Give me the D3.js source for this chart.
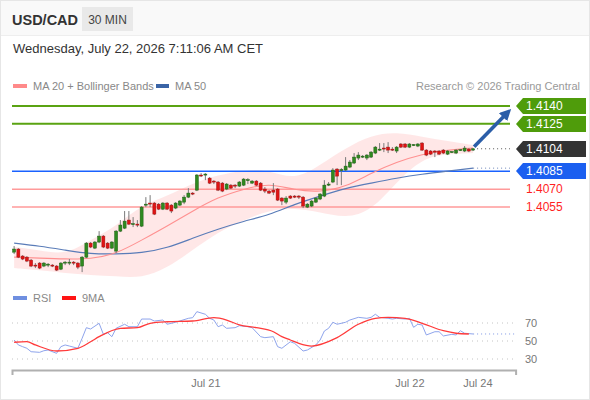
<!DOCTYPE html>
<html>
<head>
<meta charset="utf-8">
<script src="https://cdn.jsdelivr.net/npm/d3@7"></script>
<style>
  body { margin: 0; background: #fff; }
  svg { display: block; font-family: Arial, "Liberation Sans", sans-serif; }
</style>
</head>
<body>
<div id="chart"></div>
<script>
// candles, 30 min, index 0..108
const open = [
  1.40170,1.40196,1.40137,1.40128,1.40103,1.40061,1.40078,1.40053,1.40061,1.40061,
  1.40053,1.40027,1.40078,1.40078,1.40086,1.40078,1.40053,1.40128,1.40246,1.40204,
  1.40255,1.40305,1.40246,1.40204,1.40179,1.40347,1.40372,1.40440,1.40406,1.40406,
  1.40389,1.40566,1.40583,1.40583,1.40574,1.40532,1.40583,1.40566,1.40541,1.40566,
  1.40591,1.40633,1.40667,1.40692,1.40819,1.40819,1.40793,1.40768,1.40760,1.40751,
  1.40701,1.40734,1.40734,1.40726,1.40734,1.40776,1.40751,1.40768,1.40751,1.40701,
  1.40684,1.40692,1.40701,1.40625,1.40591,1.40642,1.40642,1.40642,1.40633,1.40549,
  1.40558,1.40591,1.40617,1.40642,1.40734,1.40760,1.40869,1.40861,1.40861,1.40886,
  1.40920,1.40962,1.40970,1.40962,1.40970,1.41004,1.41029,1.41046,1.41054,1.41037,
  1.41021,1.41080,1.41080,1.41054,1.41071,1.41063,1.41088,1.41029,1.41021,1.41021,
  1.41021,1.41029,1.40995,1.41012,1.41004,1.41029,1.41021,1.41037,1.41029
];
const high = [
  1.40221,1.40204,1.40145,1.40137,1.40112,1.40078,1.40086,1.40086,1.40078,1.40069,
  1.40061,1.40086,1.40095,1.40112,1.40095,1.40086,1.40137,1.40255,1.40255,1.40263,
  1.40347,1.40314,1.40255,1.40263,1.40356,1.40440,1.40516,1.40516,1.40465,1.40440,
  1.40558,1.40633,1.40650,1.40591,1.40583,1.40591,1.40591,1.40574,1.40591,1.40608,
  1.40650,1.40709,1.40675,1.40827,1.40835,1.40835,1.40802,1.40776,1.40768,1.40760,
  1.40751,1.40743,1.40743,1.40768,1.40793,1.40793,1.40776,1.40776,1.40760,1.40718,
  1.40692,1.40751,1.40709,1.40633,1.40642,1.40650,1.40650,1.40650,1.40642,1.40583,
  1.40608,1.40633,1.40667,1.40776,1.40760,1.40877,1.40877,1.40877,1.40970,1.40945,
  1.41004,1.41012,1.40987,1.40995,1.41021,1.41063,1.41088,1.41088,1.41096,1.41054,
  1.41063,1.41088,1.41088,1.41088,1.41080,1.41088,1.41096,1.41037,1.41029,1.41029,
  1.41029,1.41037,1.41029,1.41021,1.41037,1.41037,1.41063,1.41046,1.41046
];
const low = [
  1.40154,1.40120,1.40103,1.40086,1.40044,1.40036,1.40027,1.40044,1.40044,1.40044,
  1.40011,1.40019,1.40061,1.40061,1.40061,1.40027,1.40002,1.40120,1.40204,1.40196,
  1.40246,1.40204,1.40196,1.40196,1.40162,1.40339,1.40364,1.40398,1.40381,1.40381,
  1.40381,1.40549,1.40549,1.40482,1.40524,1.40524,1.40524,1.40499,1.40532,1.40558,
  1.40574,1.40625,1.40650,1.40684,1.40802,1.40776,1.40743,1.40743,1.40684,1.40675,
  1.40692,1.40701,1.40709,1.40718,1.40726,1.40743,1.40743,1.40726,1.40684,1.40667,
  1.40659,1.40650,1.40600,1.40566,1.40574,1.40617,1.40625,1.40617,1.40541,1.40541,
  1.40549,1.40583,1.40608,1.40633,1.40726,1.40751,1.40734,1.40734,1.40852,1.40877,
  1.40911,1.40945,1.40962,1.40945,1.40962,1.40995,1.41021,1.41012,1.41004,1.41021,
  1.41004,1.41046,1.41046,1.41046,1.41063,1.41054,1.41021,1.40978,1.40987,1.40970,
  1.40987,1.40995,1.40987,1.41004,1.40995,1.41021,1.41012,1.41012,1.41021
];
const close = [
  1.40196,1.40128,1.40112,1.40095,1.40053,1.40053,1.40036,1.40078,1.40069,1.40053,
  1.40019,1.40078,1.40086,1.40086,1.40078,1.40044,1.40128,1.40246,1.40213,1.40255,
  1.40305,1.40213,1.40204,1.40255,1.40347,1.40398,1.40431,1.40406,1.40410,1.40398,
  1.40549,1.40574,1.40578,1.40490,1.40532,1.40583,1.40532,1.40516,1.40583,1.40600,
  1.40633,1.40667,1.40659,1.40819,1.40815,1.40827,1.40751,1.40760,1.40692,1.40684,
  1.40743,1.40709,1.40726,1.40760,1.40785,1.40780,1.40768,1.40734,1.40692,1.40684,
  1.40667,1.40675,1.40608,1.40600,1.40625,1.40625,1.40633,1.40633,1.40558,1.40574,
  1.40600,1.40625,1.40659,1.40734,1.40743,1.40861,1.40810,1.40865,1.40894,1.40928,
  1.40970,1.40987,1.40978,1.40987,1.41012,1.41054,1.41037,1.41042,1.41029,1.41033,
  1.41054,1.41054,1.41054,1.41080,1.41075,1.41080,1.41029,1.40987,1.40995,1.41012,
  1.40995,1.41004,1.41021,1.41016,1.41029,1.41033,1.41046,1.41021,1.41040
];

// indicator lines read every 6 candles
const maIdx    = [0,6,12,18,24,30,36,42,48,54,60,66,72,78,84,90,96,102,108];
const ma20     = [1.40128,1.40120,1.40112,1.40112,1.40154,1.40271,1.40389,1.40516,1.40633,1.40701,
                  1.40751,1.40692,1.40675,1.40718,1.40835,1.40928,1.40995,1.41029,1.41046];
const bbUpper  = [1.40213,1.40187,1.40145,1.40271,1.40389,1.40566,1.40642,1.40751,1.40819,1.40861,
                  1.40861,1.40776,1.40903,1.41046,1.41155,1.41181,1.41139,1.41105,1.41071];
const bbLower  = [1.40036,1.40019,1.39993,1.39977,1.39968,1.39951,1.40036,1.40187,1.40339,1.40440,
                  1.40524,1.40541,1.40507,1.40457,1.40516,1.40760,1.40962,1.40995,1.41004];
const ma50     = [1.40246,1.40221,1.40187,1.40154,1.40154,1.40162,1.40204,1.40288,1.40364,1.40431,
                  1.40482,1.40574,1.40642,1.40709,1.40751,1.40793,1.40827,1.40852,1.40877];

// levels
const resistances = [1.4140, 1.4125];
const lastPrice = 1.4104;
const pivot = 1.4085;
const supports = [1.4070, 1.4055];

// RSI panel
const rsiIdx = [0,1,2,3,4,6,7,8,10,11,12,13,15,16,17,18,20,21,22,23,24,26,27,29,30,32,33,35,36,38,
                41,42,43,45,46,47,48,49,50,52,53,55,56,58,59,61,62,63,65,66,68,69,71,72,73,74,75,76,78,79,
                81,83,84,85,86,88,89,90,92,93,94,95,96,97,99,100,101,103,104,105,106,108];
const rsi = [51.1,45.6,43.7,41.9,38.1,37.4,39.2,40.0,36.3,43.7,45.6,44.4,41.9,53.0,64.8,63.3,69.7,57.4,59.2,54.8,
             64.1,68.6,65.9,65.9,74.4,74.4,72.2,73.3,68.6,70.8,75.2,75.9,82.6,79.7,75.2,73.3,65.9,67.8,64.1,64.8,
             67.0,65.9,64.8,54.8,53.7,54.8,43.7,41.9,49.2,47.4,38.9,40.0,45.6,51.1,61.1,64.1,70.8,68.6,70.8,73.3,
             76.3,75.2,76.3,79.7,76.3,75.2,74.4,75.2,74.4,75.2,65.2,68.6,67.8,56.7,60.3,60.3,55.6,57.4,56.7,61.4,
             58.6,57.8];
const rsiMaIdx = [0,3,5,10,15,18,20,25,29,32,36,42,47,50,53,57,61,63,65,67,70,76,81,85,88,92,96,101,104,107];
const rsiMa = [48.6,49.2,45.6,38.9,41.9,49.2,54.8,64.1,64.8,69.7,71.4,72.2,75.9,73.3,67.8,64.8,60.3,54.8,51.1,47.4,
               44.4,53.7,68.6,75.2,76.3,75.2,69.7,61.4,58.6,57.8];
const rsiTicks = [70, 50, 30];

const tickIdx = [45, 93, 109];
const tickLabels = ["Jul 21", "Jul 22", "Jul 24"];

const W = 590, H = 400;
const svg = d3.select("#chart").append("svg").attr("width", W).attr("height", H);

svg.append("rect").attr("x", 0.5).attr("y", 0.5).attr("width", W - 1).attr("height", H - 1)
  .attr("fill", "#fff").attr("stroke", "#e6e6e6");
svg.append("rect").attr("x", 1).attr("y", 1).attr("width", W - 2).attr("height", 34).attr("fill", "#f9f9f9");
svg.append("line").attr("x1", 1).attr("x2", W - 1).attr("y1", 35.5).attr("y2", 35.5).attr("stroke", "#eeeeee");

// header
svg.append("text").attr("x", 12).attr("y", 25).attr("font-size", 14.5).attr("font-weight", "bold")
  .attr("fill", "#333").text("USD/CAD");
svg.append("rect").attr("x", 82).attr("y", 7).attr("width", 51).attr("height", 24).attr("fill", "#e9e9e9");
svg.append("text").attr("x", 107.5).attr("y", 24).attr("text-anchor", "middle").attr("font-size", 12)
  .attr("fill", "#444").text("30 MIN");
svg.append("text").attr("x", 13).attr("y", 53).attr("font-size", 13).attr("fill", "#333")
  .text("Wednesday, July 22, 2026 7:11:06 AM CET");

// legend
svg.append("rect").attr("x", 13).attr("y", 84).attr("width", 14).attr("height", 4).attr("fill", "#ff8a8a");
svg.append("text").attr("x", 33).attr("y", 90).attr("font-size", 11).attr("fill", "#888").text("MA 20 + Bollinger Bands");
svg.append("rect").attr("x", 156).attr("y", 84).attr("width", 13).attr("height", 4).attr("fill", "#3a64a6");
svg.append("text").attr("x", 175).attr("y", 90).attr("font-size", 11).attr("fill", "#888").text("MA 50");
svg.append("text").attr("x", 580).attr("y", 90).attr("text-anchor", "end").attr("font-size", 11)
  .attr("fill", "#999").text("Research \u00a9 2026 Trading Central");

// scales
const x = d3.scaleLinear().domain([-0.5, 118]).range([12, 515.6]);
const y = d3.scaleLinear().domain([1.4055, 1.4140]).range([207, 106]);
const yr = d3.scaleLinear().domain([30, 70]).range([359, 323]);

const lineEnd = 510;

// bollinger band
const band = maIdx.map((d, i) => ({ i: d, up: bbUpper[i], lo: bbLower[i] }));
svg.append("path").datum(band)
  .attr("fill", "#ffe3e3").attr("opacity", 0.85)
  .attr("d", d3.area().curve(d3.curveBasis).x(d => x(d.i)).y0(d => y(d.lo)).y1(d => y(d.up)));

// level lines
supports.forEach(v => {
  svg.append("line").attr("x1", 12).attr("x2", lineEnd).attr("y1", y(v)).attr("y2", y(v))
    .attr("stroke", "#ff9a9a").attr("stroke-width", 1.5);
});
resistances.forEach(v => {
  svg.append("line").attr("x1", 12).attr("x2", lineEnd).attr("y1", y(v)).attr("y2", y(v))
    .attr("stroke", "#5aa312").attr("stroke-width", 2);
});
svg.append("line").attr("x1", 12).attr("x2", lineEnd).attr("y1", y(pivot)).attr("y2", y(pivot))
  .attr("stroke", "#1a62ff").attr("stroke-width", 1.5);

// moving averages
const maLine = vals => d3.line().curve(d3.curveBasis).x((d, i) => x(maIdx[i])).y(d => y(d))(vals);
svg.append("path").attr("d", maLine(ma50)).attr("fill", "none").attr("stroke", "#5a7cb8").attr("stroke-width", 1.2);
svg.append("path").attr("d", maLine(ma20)).attr("fill", "none").attr("stroke", "#ff9090").attr("stroke-width", 1.1);

// candles
const candles = open.map((o, i) => ({ i, o, h: high[i], l: low[i], c: close[i] }));
const cg = svg.append("g");
cg.selectAll("line.wick").data(candles).enter().append("line")
  .attr("x1", d => x(d.i)).attr("x2", d => x(d.i))
  .attr("y1", d => y(d.h)).attr("y2", d => y(d.l))
  .attr("stroke", "#7a7a7a").attr("stroke-width", 1);
cg.selectAll("rect.body").data(candles).enter().append("rect")
  .attr("x", d => x(d.i) - 1.5)
  .attr("width", 3)
  .attr("y", d => y(Math.max(d.o, d.c)))
  .attr("height", d => Math.max(1, Math.abs(y(d.o) - y(d.c))))
  .attr("fill", d => d.c >= d.o ? "#2f8a1f" : "#e01414")
  .attr("stroke", d => d.c >= d.o ? "#1f5e14" : "#a01010")
  .attr("stroke-width", 0.5);

// dotted extensions
const lastI = open.length - 1;
svg.append("line").attr("x1", x(lastI) + 4).attr("x2", lineEnd).attr("y1", y(lastPrice)).attr("y2", y(lastPrice))
  .attr("stroke", "#555").attr("stroke-width", 1).attr("stroke-dasharray", "1,3");
svg.append("line").attr("x1", x(lastI)).attr("x2", lineEnd).attr("y1", y(ma50[ma50.length - 1])).attr("y2", y(ma50[ma50.length - 1]))
  .attr("stroke", "#6d86b8").attr("stroke-width", 1).attr("stroke-dasharray", "1,3");

// forecast arrow
svg.append("defs").append("marker").attr("id", "ah").attr("viewBox", "0 0 10 10")
  .attr("refX", 5).attr("refY", 5).attr("markerWidth", 3.2).attr("markerHeight", 3.2).attr("orient", "auto")
  .append("path").attr("d", "M0,0L10,5L0,10Z").attr("fill", "#2b5ea8");
svg.append("line").attr("x1", x(lastI) + 1).attr("y1", y(lastPrice) - 2)
  .attr("x2", x(lastI) + 34).attr("y2", y(resistances[0]) + 7)
  .attr("stroke", "#2b5ea8").attr("stroke-width", 3.6).attr("marker-end", "url(#ah)");

// price labels
const tag = (v, fill) => {
  const yc = Math.round(y(v));
  svg.append("path").attr("d", `M516,${yc}L523,${yc - 8}L586,${yc - 8}L586,${yc + 8}L523,${yc + 8}Z`).attr("fill", fill);
  svg.append("text").attr("x", 526).attr("y", yc).attr("dy", "0.36em").attr("font-size", 12)
    .attr("fill", "#fff").text(v.toFixed(4));
};
resistances.forEach(v => tag(v, "#4f9c0b"));
tag(lastPrice, "#333333");
tag(pivot, "#1b5ff0");
supports.forEach(v => {
  svg.append("text").attr("x", 526).attr("y", y(v)).attr("dy", "0.36em").attr("font-size", 12)
    .attr("fill", "#ff1f1f").text(v.toFixed(4));
});

// RSI panel
svg.append("rect").attr("x", 13).attr("y", 296).attr("width", 14).attr("height", 4).attr("fill", "#6f8fe0");
svg.append("text").attr("x", 33).attr("y", 302).attr("font-size", 11).attr("fill", "#888").text("RSI");
svg.append("rect").attr("x", 62).attr("y", 296).attr("width", 14).attr("height", 4).attr("fill", "#ff1414");
svg.append("text").attr("x", 82).attr("y", 302).attr("font-size", 11).attr("fill", "#888").text("9MA");

rsiTicks.forEach(v => {
  svg.append("line").attr("x1", 12).attr("x2", 515).attr("y1", yr(v)).attr("y2", yr(v))
    .attr("stroke", "#c4c4c4").attr("stroke-width", 1).attr("stroke-dasharray", "1,4");
  svg.append("text").attr("x", 525).attr("y", yr(v)).attr("dy", "0.36em").attr("font-size", 11)
    .attr("fill", "#777").text(v);
});

svg.append("path").datum(rsi)
  .attr("d", d3.line().x((d, i) => x(rsiIdx[i])).y(d => yr(d)))
  .attr("fill", "none").attr("stroke", "#8ea4ec").attr("stroke-width", 1);
svg.append("line").attr("x1", x(rsiIdx[rsiIdx.length - 1])).attr("x2", 515)
  .attr("y1", yr(rsi[rsi.length - 1])).attr("y2", yr(rsi[rsi.length - 1]))
  .attr("stroke", "#7f98e6").attr("stroke-width", 1).attr("stroke-dasharray", "1,3");
svg.append("path").datum(rsiMa)
  .attr("d", d3.line().curve(d3.curveMonotoneX).x((d, i) => x(rsiMaIdx[i])).y(d => yr(d)))
  .attr("fill", "none").attr("stroke", "#ff3a3a").attr("stroke-width", 1.3);

// x axis
const xAxis = d3.axisBottom(x).tickValues(tickIdx).tickFormat((d, i) => tickLabels[i])
  .tickSizeInner(0).tickSizeOuter(5).tickPadding(9);
const ax = svg.append("g").attr("transform", "translate(0,370)").call(xAxis);
ax.select(".domain").attr("stroke", "#b0b0b0").attr("stroke-width", 2);
ax.selectAll("text").attr("font-size", 11).attr("fill", "#777").attr("font-family", "Arial, 'Liberation Sans', sans-serif");
</script>
</body>
</html>
